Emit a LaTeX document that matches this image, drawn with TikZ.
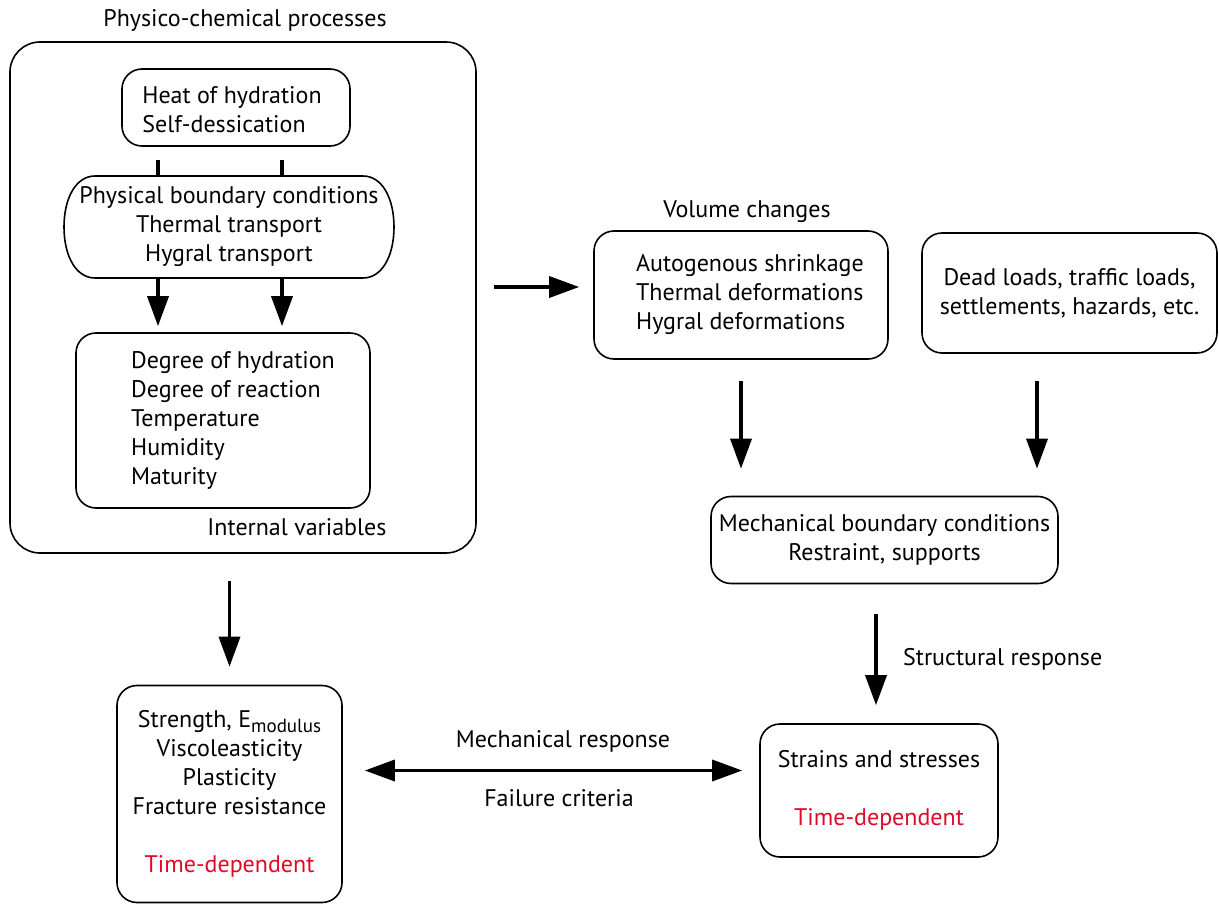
\documentclass[tikz,border=0pt]{standalone}
\usepackage{fontspec}
\setmainfont{PT Sans}
\usetikzlibrary{arrows.meta}
\definecolor{tdred}{RGB}{222,10,40}
\newcommand{\shiftedlines}[2]{\hspace*{#1}\begin{tabular}{@{}l@{}}#2\end{tabular}}
\begin{document}
\begin{tikzpicture}[x=1pt,y=-1pt,
  every node/.style={font=\fontsize{24}{29}\selectfont},
  box/.style={draw, line width=1.6pt, rounded corners=20pt, inner sep=0pt, align=center},
  lbl/.style={inner sep=0pt},
  arr/.style={line width=3.5pt, -{Triangle[length=30pt,width=21pt]}},
  darr/.style={line width=3.5pt, {Triangle[length=30pt,width=21pt]}-{Triangle[length=30pt,width=21pt]}},
  link/.style={line width=3.5pt}]
\useasboundingbox (0,0) rectangle (1219,904);

\node[box, rounded corners=30pt, minimum width=466pt, minimum height=511pt] (outer) at (243,297.5) {};
\node[lbl] (ttl) at (245,20) {Physico-chemical processes};
\node[lbl] (iv) at (297,527) {Internal variables};

\node[box, minimum width=228pt, minimum height=77pt] (heat) at (236,107.5)
  {\shiftedlines{0pt}{\rule{0pt}{30pt}Heat of hydration\\Self-dessication}\hspace*{8pt}};
\node[inner sep=0pt, minimum width=332pt, minimum height=102pt, align=center] (pbc) at (229,227)
  {Physical boundary conditions\\Thermal transport\\Hygral transport};
\draw[line width=1.6pt] (95,176) -- (363,176)
  .. controls (382,176) and (394,198) .. (394,227)
  .. controls (394,256) and (382,278) .. (363,278) -- (95,278)
  .. controls (76,278) and (64,256) .. (64,227)
  .. controls (64,198) and (76,176) .. (95,176) -- cycle;
\node[box, minimum width=294pt, minimum height=175pt] (deg) at (223,420.5)
  {\shiftedlines{20pt}{Degree of hydration\\Degree of reaction\\Temperature\\Humidity\\Maturity}};

\coordinate (c1) at (158,0);
\coordinate (c2) at (282,0);
\draw[link, shorten <=13pt] (heat.south -| c1) -- (pbc.north -| c1);
\draw[link, shorten <=13pt] (heat.south -| c2) -- (pbc.north -| c2);
\draw[arr, shorten >=6pt] (pbc.south -| c1) -- (deg.north -| c1);
\draw[arr, shorten >=6pt] (pbc.south -| c2) -- (deg.north -| c2);

\node[lbl] (volt) at (747,212) {Volume changes};
\node[box, minimum width=294pt, minimum height=128pt] (vc) at (741,295)
  {\shiftedlines{18pt}{Autogenous shrinkage\\Thermal deformations\\Hygral deformations}};
\node[box, minimum width=295pt, minimum height=120pt] (dead) at (1069.5,293)
  {Dead loads, traffic loads,\\settlements, hazards, etc.};
\node[box, minimum width=347pt, minimum height=87pt] (mbc) at (884.5,540)
  {Mechanical boundary conditions\\Restraint, supports};
\node[box, minimum width=238pt, minimum height=133pt] (str) at (879,790.5)
  {Strains and stresses\\[29pt]\textcolor{tdred}{Time-dependent}};
\node[box, minimum width=225pt, minimum height=217pt] (sth) at (229.5,794)
  {Strength, E\raisebox{-5pt}{\fontsize{19}{19}\selectfont modulus}\\Viscoleasticity\\Plasticity\\Fracture resistance\\[29pt]\textcolor{tdred}{Time-dependent}};

\node[lbl, anchor=west] (sr) at (903,659) {Structural response};
\node[lbl] (mr) at (563,741) {Mechanical response};
\node[lbl] (fc) at (559,798) {Failure criteria};

\draw[arr, shorten <=17pt, shorten >=14pt] ([yshift=8pt]vc.west -| outer.east) -- ([yshift=8pt]vc.west);
\draw[arr, shorten <=21pt, shorten >=27pt] (vc.south) -- (vc.south |- mbc.north);
\coordinate (c3) at (1037,0);
\draw[arr, shorten <=27pt, shorten >=27pt] (dead.south -| c3) -- (mbc.north -| c3);
\coordinate (c4) at (876,0);
\draw[arr, shorten <=30pt, shorten >=18pt] (mbc.south -| c4) -- (str.north -| c4);
\draw[arr, shorten <=27pt, shorten >=18pt] (outer.south -| sth.north) -- (sth.north);
\draw[darr, shorten <=22pt, shorten >=17pt] ([yshift=20pt]str.west -| sth.east) -- ([yshift=20pt]str.west);
\end{tikzpicture}
\end{document}
